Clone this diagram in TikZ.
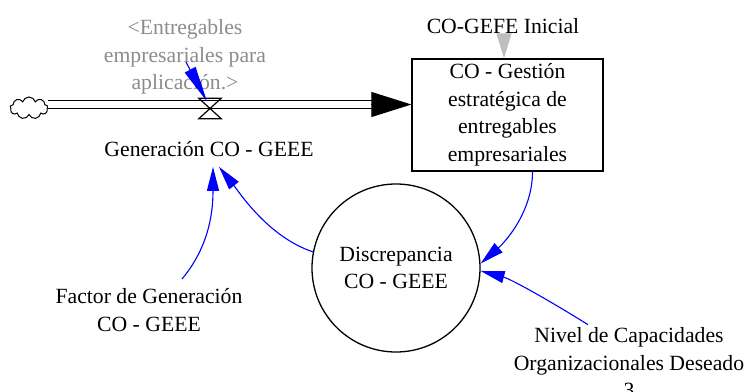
\documentclass[tikz,border=0pt]{standalone}
\usepackage{fontspec}
\setmainfont{Liberation Serif}
\usetikzlibrary{arrows.meta,shapes.symbols,calc}
\definecolor{linkblue}{RGB}{0,0,255}
\definecolor{shadowtext}{RGB}{140,140,140}
\definecolor{initarrow}{RGB}{190,190,190}
\begin{document}
\begin{tikzpicture}[x=1pt,y=-1pt,
  every node/.style={font=\fontsize{21.7}{27.5}\selectfont, inner sep=0pt, align=center},
  infl/.style={draw=linkblue, line width=1.1pt, -{Triangle[length=24pt,width=12pt]}},
  pipe/.style={line width=1.4pt, double distance=7pt},
  outline/.style={draw, line width=1.3pt}]
\useasboundingbox (0,0) rectangle (749,391);

% stock, source cloud and rate
\node[outline, minimum width=191pt, minimum height=112pt] (stock) at (507.5,115)
  {CO - Gestión\\estratégica de\\entregables\\empresariales};
\node[cloud, cloud puffs=9, cloud ignores aspect, draw, line width=1pt,
  minimum width=38pt, minimum height=22pt] (src) at (29,108) {};
\coordinate (inlet) at ($(stock.west)+(0,-10.5)$);
\coordinate (cloudOut) at (src.east |- inlet);
\draw[pipe] (cloudOut) -- ($(inlet)+(-39,0)$);
\draw[line width=1pt, -{Triangle[length=40pt,width=25pt]}] ($(inlet)+(-40,0)$) -- (inlet);

\node[minimum width=22pt, minimum height=20pt] (valve) at (210,108.5) {};
\draw[line width=1.2pt] (valve.north west) -- (valve.north east)
  -- (valve.south west) -- (valve.south east) -- cycle;

% labels and auxiliaries
\node[text=shadowtext] (shadow) at (185,57) {<Entregables\\empresariales para\\aplicación.>};
\node (flowlbl) at (209,149) {Generación CO - GEEE};
\node (init) at (503,26) {CO-GEFE Inicial};
\node[outline, circle, minimum size=168pt] (disc) at (396,268) {Discrepancia\\CO - GEEE};
\node (factor) at (149,310) {Factor de Generación\\CO - GEEE};
\node (nivel) at (629,363) {Nivel de Capacidades\\Organizacionales Deseado\\3};

% links
\coordinate (shadowTail) at (186,62);
\draw[infl, -{Triangle[length=36pt,width=12pt]}] (shadowTail) -- ($(valve.center)+(-3,-7)$);

\draw[draw=initarrow, line width=1pt, -{Triangle[length=25pt,width=15pt]}]
  ([xshift=1pt]init.south) -- ([xshift=1pt]init.south |- stock.north);

\coordinate (stockOut) at ($(stock.south)+(25,0)$);
\draw[infl] (stockOut) .. controls +(0,40) and +(25,-22) .. (disc.3);

\coordinate (nivelTail) at ($(nivel.north)+(-41,-3)$);
\draw[infl] (nivelTail) .. controls +(-40,-25) and +(30,8) .. (disc.-2);

\coordinate (lblIn1) at ($(flowlbl.south)+(4,10)$);
\coordinate (lblIn2) at ($(flowlbl.south)+(10,10)$);
\coordinate (factorTail) at (182,279);
\draw[infl] (factorTail) .. controls +(25,-30) and +(0,50) .. (lblIn1);
\draw[infl] (disc.169) .. controls +(-45,-15) and +(20,25) .. (lblIn2);
\end{tikzpicture}
\end{document}
